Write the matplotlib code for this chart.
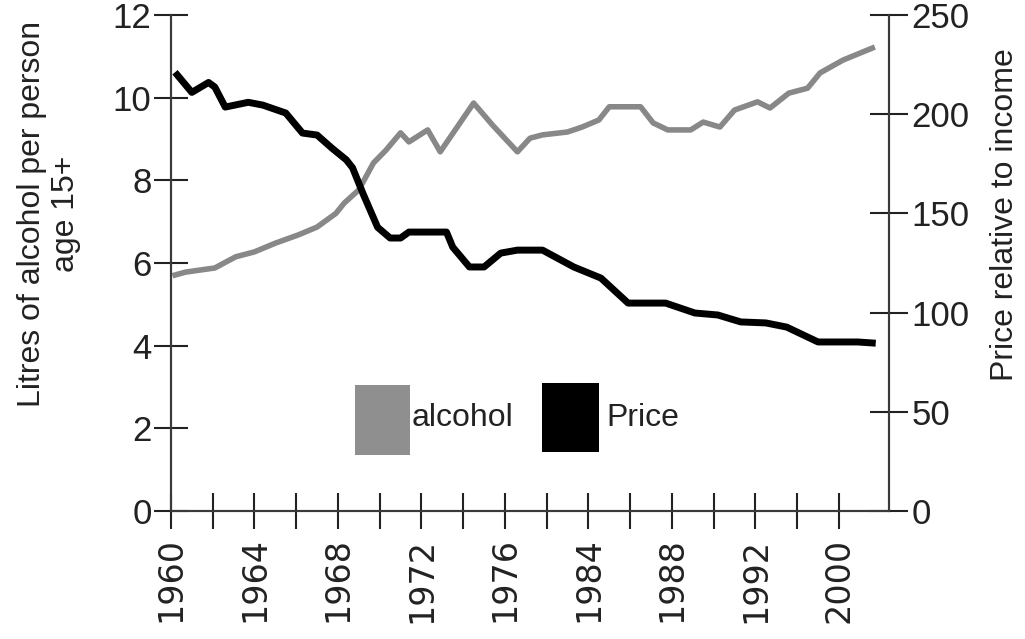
import matplotlib
matplotlib.use('Agg')
import matplotlib.pyplot as plt
from matplotlib.patches import Rectangle

# values (x is the chart's own year scale)
alcohol_years = [1960.2, 1960.7, 1962.1, 1963.1, 1964.0, 1965.0, 1966.1, 1967.0,
                 1967.9, 1968.3, 1969.0, 1969.7, 1970.3, 1971.0, 1971.4, 1972.3,
                 1972.9, 1974.5, 1975.4, 1976.6, 1977.2, 1977.8, 1979.0, 1979.7,
                 1980.5, 1981.0, 1982.5, 1983.1, 1983.8, 1984.9, 1985.5, 1986.3,
                 1987.0, 1988.1, 1988.7, 1989.6, 1990.5, 1991.1, 1992.2, 1993.6]
alcohol = [5.71, 5.78, 5.88, 6.15, 6.27, 6.48, 6.68, 6.87,
           7.20, 7.45, 7.77, 8.42, 8.73, 9.15, 8.93, 9.22,
           8.69, 9.87, 9.34, 8.69, 9.02, 9.10, 9.17, 9.29,
           9.46, 9.78, 9.78, 9.39, 9.22, 9.22, 9.41, 9.29,
           9.70, 9.90, 9.75, 10.11, 10.23, 10.60, 10.91, 11.20]

price_years = [1960.3, 1961.0, 1961.8, 1962.1, 1962.6, 1963.7, 1964.4, 1965.5,
               1966.3, 1967.0, 1967.7, 1968.4, 1968.7, 1969.2, 1969.9, 1970.5,
               1971.0, 1971.4, 1973.2, 1973.5, 1974.3, 1975.0, 1975.8, 1976.6,
               1977.8, 1979.3, 1980.6, 1981.9, 1983.7, 1985.1, 1986.2, 1987.3,
               1988.5, 1989.5, 1991.0, 1992.9, 1993.6]
price = [219.8, 211.0, 216.0, 213.7, 203.6, 206.0, 204.6, 200.6,
         190.5, 189.5, 183.0, 177.0, 173.0, 160.0, 143.0, 137.6,
         137.6, 140.6, 140.6, 133.0, 123.0, 123.0, 130.0, 131.5,
         131.5, 123.0, 117.4, 104.8, 104.8, 99.8, 98.8, 95.3,
         94.8, 92.7, 85.2, 85.2, 84.7]

# tick labels exactly as printed on the original chart
year_labels = ['1960', '1964', '1968', '1972', '1976', '1984', '1988', '1992', '2000']
left_ticks = [0, 2, 4, 6, 8, 10, 12]
right_ticks = [0, 50, 100, 150, 200, 250]

GRAY = '#888888'
SPINE = '#3a3a3a'
TEXT = '#222222'

plt.rcParams['font.family'] = ['Liberation Sans', 'DejaVu Sans']

fig = plt.figure(figsize=(10.25, 6.39), dpi=100)
ax = fig.add_axes([0.1668, 0.2003, 0.7005, 0.7762])
ax2 = ax.twinx()

ax.plot(alcohol_years, alcohol, color=GRAY, lw=4.0)
ax2.plot(price_years, price, color='black', lw=5.0)

ax.set_xlim(1960, 1994.4)
ax.set_ylim(0, 12)
ax2.set_ylim(0, 250)

ax.set_xticks(range(1960, 1993, 2))
ax.set_xticklabels([year_labels[i // 2] if i % 2 == 0 else '' for i in range(17)],
                   rotation=90, fontsize=24, family='DejaVu Sans', color=TEXT)
ax.set_yticks(left_ticks)
ax.set_yticklabels([str(t) for t in left_ticks], fontsize=25, color=TEXT)
ax2.set_yticks(right_ticks)
ax2.set_yticklabels([str(t) for t in right_ticks], fontsize=25, color=TEXT)

for a in (ax, ax2):
    a.spines['top'].set_visible(False)
    for s in a.spines.values():
        s.set_color(SPINE)
        s.set_linewidth(1.5)
ax.tick_params(axis='x', direction='inout', length=26, width=1.5, color=TEXT, pad=6)
ax.tick_params(axis='y', direction='inout', length=24, width=1.5, color=TEXT, pad=2)
ax2.tick_params(axis='y', direction='inout', length=28, width=1.5, color=TEXT, pad=2)

fig.text(49 / 1025, 1 - 214 / 639, 'Litres of alcohol per person\nage 15+',
         rotation=90, ha='center', va='center', multialignment='center',
         fontsize=23, linespacing=1.15, color=TEXT)
fig.text(1005 / 1025, 1 - 215 / 639, 'Price relative to income',
         rotation=90, ha='center', va='center', fontsize=23, color=TEXT)

# legend boxes drawn by hand, as in the original graphic
ax.add_patch(Rectangle((0.2563, 0.1129), 0.0766, 0.1411, transform=ax.transAxes,
                       facecolor='#8f8f8f', edgecolor='none', zorder=5))
ax.add_patch(Rectangle((0.5167, 0.119), 0.0794, 0.139, transform=ax.transAxes,
                       facecolor='black', edgecolor='none', zorder=5))
ax.text(0.3357, 0.1875, 'alcohol', transform=ax.transAxes, ha='left', va='center',
        fontsize=23, color=TEXT)
ax.text(0.607, 0.1875, 'Price', transform=ax.transAxes, ha='left', va='center',
        fontsize=23, color=TEXT)

fig.savefig('out.png', dpi=100)
